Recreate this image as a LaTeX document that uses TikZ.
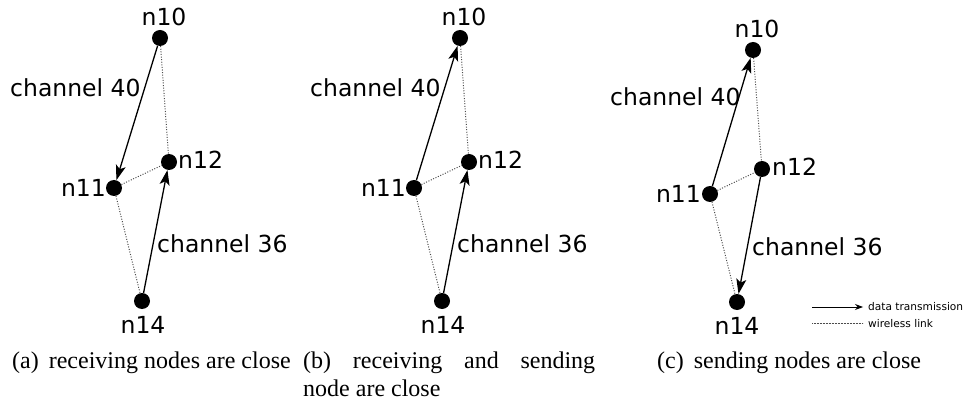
\documentclass[tikz,border=0pt]{standalone}
\usepackage{fontspec}
\setmainfont{Liberation Serif}
\newfontfamily\djv{DejaVu Sans}
\usetikzlibrary{arrows.meta}
\begin{document}
\begin{tikzpicture}[x=1pt,y=-1pt,
  dot/.style={circle,fill=black,inner sep=0pt,minimum size=16pt},
  lbl/.style={inner sep=0pt,font=\djv\fontsize{23.5}{27}\selectfont},
  captext/.style={inner sep=0pt,font=\fontsize{24}{28}\selectfont},
  leg/.style={inner sep=0pt,font=\djv\fontsize{10.6}{12}\selectfont},
  tx/.style={line width=1.3pt,-{Stealth[length=15pt,width=10pt,inset=3.5pt]}},
  wl/.style={gray!60!black,line width=1pt,dash pattern=on 1pt off 1.6pt}]
\useasboundingbox (0,0) rectangle (968,403);
% ---------- panel (a)
\node[dot] (a10) at (160,38) {};
\node[dot] (a11) at (114,188) {};
\node[dot] (a12) at (169,162) {};
\node[dot] (a14) at (142,301) {};
\draw[wl] (a10) -- (a12);
\draw[wl] (a11) -- (a12);
\draw[wl] (a11) -- (a14);
\draw[tx] (a10) -- (a11);
\draw[tx] (a14) -- (a12);
\node[lbl,anchor=base] (la10) at (164,26) {n10};
\node[lbl,anchor=base east] (la11) at (106,197) {n11};
\node[lbl,anchor=base west] (la12) at (178,169) {n12};
\node[lbl,anchor=base] (la14) at (143,333) {n14};
\node[lbl,anchor=base west] (la40) at (10,97) {channel 40};
\node[lbl,anchor=base west] (la36) at (157,252) {channel 36};
% ---------- panel (b)
\node[dot] (b10) at (460,38) {};
\node[dot] (b11) at (414,188) {};
\node[dot] (b12) at (469,162) {};
\node[dot] (b14) at (442,301) {};
\draw[wl] (b10) -- (b12);
\draw[wl] (b11) -- (b12);
\draw[wl] (b11) -- (b14);
\draw[tx] (b11) -- (b10);
\draw[tx] (b14) -- (b12);
\node[lbl,anchor=base] (lb10) at (464,26) {n10};
\node[lbl,anchor=base east] (lb11) at (406,197) {n11};
\node[lbl,anchor=base west] (lb12) at (478,169) {n12};
\node[lbl,anchor=base] (lb14) at (443,333) {n14};
\node[lbl,anchor=base west] (lb40) at (310,97) {channel 40};
\node[lbl,anchor=base west] (lb36) at (457,252) {channel 36};
% ---------- panel (c)
\node[dot] (c10) at (753,50) {};
\node[dot] (c11) at (710,194) {};
\node[dot] (c12) at (762,169) {};
\node[dot] (c14) at (737,302) {};
\draw[wl] (c10) -- (c12);
\draw[wl] (c11) -- (c12);
\draw[wl] (c11) -- (c14);
\draw[tx] (c11) -- (c10);
\draw[tx] (c12) -- (c14);
\node[lbl,anchor=base] (lc10) at (757,38) {n10};
\node[lbl,anchor=base east] (lc11) at (701,203) {n11};
\node[lbl,anchor=base west] (lc12) at (772,176) {n12};
\node[lbl,anchor=base] (lc14) at (737,334) {n14};
\node[lbl,anchor=base west] (lc40) at (610,106) {channel 40};
\node[lbl,anchor=base west] (lc36) at (752,255) {channel 36};
% ---------- legend
\coordinate (l1a) at (812,307);
\coordinate (l1b) at (863,307);
\coordinate (l2a) at (812,323);
\coordinate (l2b) at (863,323);
\draw[line width=0.9pt,-{Stealth[length=8pt,width=6pt]}] (l1a) -- (l1b);
\draw[gray!60!black,line width=0.6pt,dash pattern=on 0.6pt off 0.9pt] (l2a) -- (l2b);
\node[leg,anchor=base west] (ld) at (868,310) {data transmission};
\node[leg,anchor=base west] (lw) at (868,327) {wireless link};
% ---------- captions
\node[captext,anchor=base west] (capa) at (12,368) {(a)\, receiving nodes are close};
\node[captext,anchor=base west] (capb1) at (303,368) {\makebox[292pt][s]{(b) receiving and sending}};
\node[captext,anchor=base west] (capb2) at (303,396) {node are close};
\node[captext,anchor=base west] (capc) at (657,368) {(c)\, sending nodes are close};
\end{tikzpicture}
\end{document}
